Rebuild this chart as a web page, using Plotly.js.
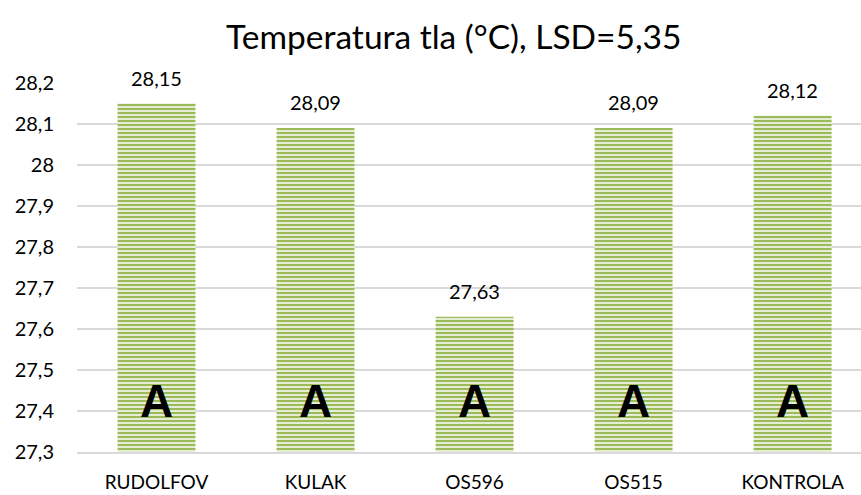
<!DOCTYPE html>
<html>
<head>
<meta charset="utf-8">
<script src="https://cdn.plot.ly/plotly-3.0.1.min.js"></script>
<style>html,body{margin:0;padding:0;background:#fff;}#chart{width:861px;height:495px;}</style>
</head>
<body>
<div id="chart"></div>
<script>
const categories = ["RUDOLFOV", "KULAK", "OS596", "OS515", "KONTROLA"];
const values = [28.15, 28.09, 27.63, 28.09, 28.12];
const groupLetters = ["A", "A", "A", "A", "A"];
const yTicks = [27.3, 27.4, 27.5, 27.6, 27.7, 27.8, 27.9, 28, 28.1, 28.2];

const FONT = "Lato, 'Open Sans', 'Liberation Sans', sans-serif";

const trace = {
  type: "bar",
  x: categories,
  y: values,
  width: 0.49,
  marker: {
    color: "#9bbb59",
    pattern: { shape: "-", fgcolor: "#9bbb59", bgcolor: "#eef3e2", size: 4, solidity: 0.55, fillmode: "replace" },
    line: { width: 0 }
  },
  hoverinfo: "skip"
};

const annotations = [];
categories.forEach((c, i) => {
  annotations.push({
    x: c, y: values[i], xref: "x", yref: "y",
    text: values[i].toFixed(2).replace(".", ","),
    showarrow: false, yanchor: "middle", yshift: 26,
    font: { family: FONT, size: 20, color: "#000" }
  });
  annotations.push({
    x: c, y: 27.425, xref: "x", yref: "y",
    text: "<b>" + groupLetters[i] + "</b>",
    showarrow: false, yanchor: "middle",
    font: { family: "'Liberation Sans', Arial, sans-serif", size: 46, color: "#000" }
  });
});

const layout = {
  width: 861, height: 495,
  margin: { l: 77, r: 0, t: 83, b: 43 },
  paper_bgcolor: "#fff", plot_bgcolor: "#fff",
  separators: ",.",
  title: { text: "Temperatura tla (°C), LSD=5,35", x: 0.527, xanchor: "center", xref: "container", y: 0.925, yanchor: "middle", font: { family: FONT, size: 33.5, color: "#000" } },
  xaxis: {
    range: [-0.5, 4.43], showgrid: false, showline: true, linecolor: "#d9d9d9", linewidth: 1.5,
    ticks: "", tickfont: { family: FONT, size: 19, color: "#000" }, fixedrange: true,
    ticklabelstandoff: 13
  },
  yaxis: {
    range: [27.3, 28.2], tickvals: yTicks, ticktext: yTicks.map(v => String(v).replace(".", ",")),
    showgrid: true, gridcolor: "#d9d9d9", gridwidth: 1.5, zeroline: false, showline: false,
    ticks: "", ticklen: 0, tickfont: { family: FONT, size: 20, color: "#000" }, fixedrange: true,
    ticklabelstandoff: 22
  },
  annotations: annotations,
  showlegend: false,
  bargap: 0.5
};

Plotly.newPlot("chart", [trace], layout, { displayModeBar: false, staticPlot: true });
</script>
</body>
</html>
